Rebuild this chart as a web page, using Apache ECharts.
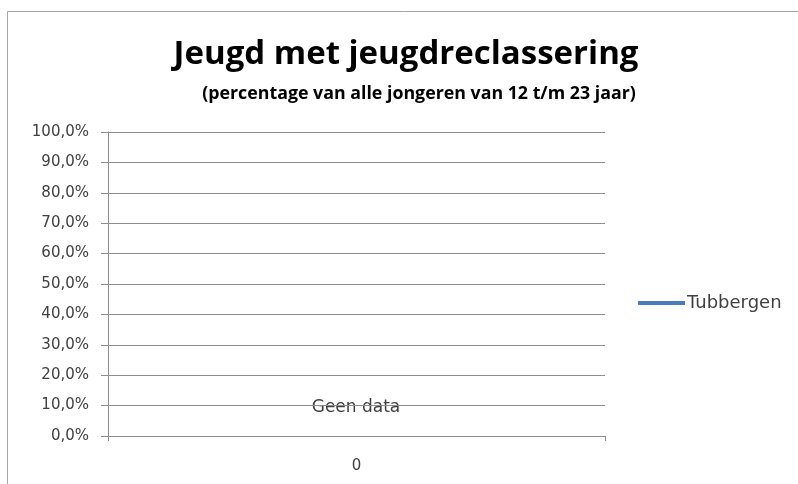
<!DOCTYPE html>
<html>
<head>
<meta charset="utf-8">
<script src="https://cdn.jsdelivr.net/npm/echarts@6/dist/echarts.min.js"></script>
<style>
  html, body { margin: 0; padding: 0; background: #fff; }
  #chart { width: 798px; height: 484px; }
</style>
</head>
<body>
<div id="chart"></div>
<script>
  // data
  const categories = ['0']
  const tubbergen = [null]
  const seriesName = 'Tubbergen'
  const noDataText = 'Geen data'

  const chart = echarts.init(document.getElementById('chart'))
  const axisColor = '#8c8c8c'
  const textColor = '#404040'

  chart.setOption({
    animation: false,
    title: [{
      text: 'Jeugd met jeugdreclassering',
      left: 401,
      textAlign: 'center',
      top: 33,
      textStyle: { fontFamily: 'Open Sans', fontWeight: 'bold', fontSize: 33, color: '#000' }
    }, {
      text: '(percentage van alle jongeren van 12 t/m 23 jaar)',
      left: 414,
      textAlign: 'center',
      top: 80,
      textStyle: { fontFamily: 'Open Sans', fontWeight: 'bold', fontSize: 17.8, color: '#000' }
    }],
    legend: {
      data: [seriesName],
      left: 633,
      top: 289,
      itemWidth: 47,
      itemHeight: 4,
      itemGap: 0,
      icon: 'rect',
      textStyle: { fontFamily: 'DejaVu Sans', fontSize: 18, color: textColor, padding: [0, 0, 0, -3] }
    },
    grid: { left: 108, right: 193, top: 132, bottom: 48 },
    xAxis: {
      type: 'category',
      data: categories,
      boundaryGap: true,
      axisLine: { lineStyle: { color: axisColor } },
      axisTick: { show: true, length: 5, lineStyle: { color: axisColor } },
      axisLabel: { fontFamily: 'DejaVu Sans', fontSize: 15, color: textColor, margin: 23 }
    },
    yAxis: {
      type: 'value',
      min: 0,
      max: 1,
      interval: 0.1,
      axisLine: { show: true, lineStyle: { color: axisColor } },
      axisTick: { show: true, length: 7, lineStyle: { color: axisColor } },
      splitLine: { lineStyle: { color: axisColor } },
      axisLabel: {
        fontFamily: 'DejaVu Sans',
        fontSize: 15,
        color: textColor,
        margin: 19,
        formatter: v => (v * 100).toFixed(1).replace('.', ',') + '%'
      }
    },
    series: [{
      name: seriesName,
      type: 'line',
      data: tubbergen,
      symbol: 'none',
      itemStyle: { color: '#4a7ebb' },
      lineStyle: { color: '#4a7ebb', width: 3 }
    }],
    graphic: [
      {
        type: 'rect',
        shape: { x: 7.5, y: 11.5, width: 820, height: 520 },
        style: { fill: 'none', stroke: '#a6a6a6', lineWidth: 1 },
        silent: true
      },
      {
        type: 'text',
        x: 356,
        y: 408,
        style: {
          text: noDataText,
          fontFamily: 'DejaVu Sans',
          fontSize: 17,
          fill: textColor,
          align: 'center',
          verticalAlign: 'middle'
        }
      }
    ]
  })
</script>
</body>
</html>
